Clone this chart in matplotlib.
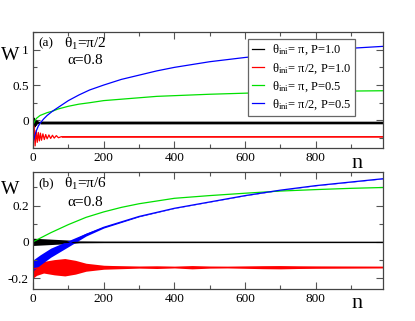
import numpy as np
import matplotlib
matplotlib.use("Agg")
import matplotlib.pyplot as plt
from matplotlib.ticker import MultipleLocator, FixedLocator

matplotlib.rc('font', family='serif', serif=['Liberation Serif', 'DejaVu Serif'])
matplotlib.rcParams['mathtext.fontset'] = 'custom'
matplotlib.rcParams['mathtext.rm'] = 'Liberation Serif'
matplotlib.rcParams['mathtext.it'] = 'Liberation Serif:italic'

# ---- panel (a) data, theta_1 = pi/2 ----
n_smooth_a = [0, 3, 6, 10, 15, 20, 30, 40, 55, 70, 85, 100, 130, 160, 200, 250, 300,
              350, 400, 450, 500, 600, 700, 800, 900, 1000]
blue_a = [-0.32, -0.26, -0.20, -0.14, -0.08, -0.04, 0.02, 0.07, 0.13, 0.18, 0.23, 0.28,
          0.36, 0.43, 0.50, 0.58, 0.64, 0.70, 0.75, 0.79, 0.83, 0.89, 0.94, 0.98, 1.02, 1.05]
green_a = [-0.06, -0.03, 0.0, 0.03, 0.05, 0.07, 0.09, 0.11, 0.13, 0.16, 0.18, 0.20, 0.23,
           0.25, 0.28, 0.30, 0.32, 0.34, 0.35, 0.36, 0.37, 0.385, 0.40, 0.41, 0.415, 0.42]

n_black_a = [0, 2, 4, 6, 8, 10, 12, 14, 16, 18, 20, 1000]
black_a = [0.0, -0.14, 0.03, -0.09, 0.0, -0.07, -0.01, -0.05, -0.02, -0.045, -0.03, -0.03]
n_black_a_band = [20, 1000]
black_a_amp = [0.02, 0.018]

n_red_a = [0, 3, 6, 9, 12, 15, 18, 21, 24, 28, 32, 36, 40, 45, 50, 55, 60, 66, 72, 80, 1000]
red_a = [-0.39, -0.08, -0.36, -0.14, -0.31, -0.17, -0.29, -0.18, -0.28, -0.19, -0.27,
         -0.20, -0.26, -0.205, -0.255, -0.21, -0.25, -0.215, -0.245, -0.23, -0.23]
n_red_a_band = [80, 1000]
red_a_amp = [0.008, 0.006]

# ---- panel (b) data, theta_1 = pi/6 ----
n_green_b = [0, 20, 50, 100, 150, 200, 250, 300, 400, 500, 600, 700, 800, 900, 1000]
green_b = [0.0, 0.02, 0.05, 0.095, 0.135, 0.165, 0.19, 0.21, 0.24, 0.255, 0.268, 0.28,
           0.288, 0.295, 0.30]

n_blue_b = [0, 20, 50, 80, 110, 150, 200, 250, 300, 400, 500, 600, 700, 800, 900, 1000]
blue_b = [-0.13, -0.10, -0.06, -0.03, 0.0, 0.04, 0.08, 0.11, 0.14, 0.185, 0.22, 0.255,
          0.285, 0.31, 0.33, 0.35]
blue_b_amp = [0.03, 0.028, 0.025, 0.02, 0.015, 0.008, 0.004, 0.003, 0.002, 0.001, 0.001,
              0.001, 0.001, 0.001, 0.001, 0.001]

n_black_b = [0, 50, 100, 130, 200, 1000]
black_b = [0.0, 0.0, 0.0, 0.0, 0.0, 0.0]
black_b_amp = [0.02, 0.015, 0.01, 0.005, 0.004, 0.003]

n_red_b = [0, 10, 30, 60, 90, 120, 150, 200, 250, 300, 350, 400, 450, 500, 550, 600, 650,
           700, 750, 800, 900, 1000]
red_b = [-0.15, -0.145, -0.14, -0.14, -0.14, -0.14, -0.14, -0.14, -0.14, -0.14, -0.14,
         -0.14, -0.14, -0.14, -0.14, -0.14, -0.14, -0.14, -0.14, -0.14, -0.14, -0.14]
red_b_amp = [0.05, 0.04, 0.032, 0.042, 0.048, 0.038, 0.022, 0.011, 0.008, 0.005, 0.007, 0.004,
             0.009, 0.005, 0.004, 0.006, 0.008, 0.009, 0.007, 0.006, 0.005, 0.004]

labels = ['θ$_{\\rm ini}$= π, P=1.0', 'θ$_{\\rm ini}$= π/2, P=1.0',
          'θ$_{\\rm ini}$= π, P=0.5', 'θ$_{\\rm ini}$= π/2, P=0.5']
colors = ['black', 'red', '#00e000', 'blue']

lw = 0.9
fig = plt.figure(figsize=(4.15, 3.21), dpi=100)
ax_a = fig.add_axes([33 / 415, 1 - 148 / 321, 350 / 415, 116 / 321])
ax_b = fig.add_axes([33 / 415, 1 - 289 / 321, 350 / 415, 117 / 321])


def band(ax, n, c, amp, col):
    c = np.array(c)
    amp = np.array(amp)
    ax.fill_between(n, c - amp, c + amp, color=col, lw=0)


# panel (a)
ax_a.plot(n_black_a, black_a, color=colors[0], lw=lw, label=labels[0])
band(ax_a, n_black_a_band, [-0.03, -0.03], black_a_amp, colors[0])
ax_a.plot(n_red_a, red_a, color=colors[1], lw=lw, label=labels[1])
band(ax_a, n_red_a_band, [-0.23, -0.23], red_a_amp, colors[1])
ax_a.plot(n_smooth_a, green_a, color=colors[2], lw=lw, label=labels[2])
ax_a.plot(n_smooth_a, blue_a, color=colors[3], lw=lw, label=labels[3])

# panel (b)
ax_b.plot(n_black_b, black_b, color=colors[0], lw=lw)
band(ax_b, n_black_b, black_b, black_b_amp, colors[0])
ax_b.plot(n_red_b, red_b, color=colors[1], lw=lw)
band(ax_b, n_red_b, red_b, red_b_amp, colors[1])
ax_b.plot(n_green_b, green_b, color=colors[2], lw=lw)
ax_b.plot(n_blue_b, blue_b, color=colors[3], lw=lw)
band(ax_b, n_blue_b, blue_b, blue_b_amp, colors[3])

ax_a.set_ylim(-0.39, 1.25)
ax_b.set_ylim(-0.26, 0.385)
ax_a.yaxis.set_major_locator(FixedLocator([0, 0.5, 1]))
ax_a.yaxis.set_minor_locator(MultipleLocator(0.25))
ax_a.set_yticklabels(['0', '0.5', '1'])
ax_b.yaxis.set_major_locator(FixedLocator([-0.2, 0, 0.2]))
ax_b.yaxis.set_minor_locator(MultipleLocator(0.1))
ax_b.set_yticklabels(['-0.2', '0', '0.2'])

for ax in (ax_a, ax_b):
    ax.set_xlim(0, 990)
    ax.xaxis.set_major_locator(FixedLocator([0, 200, 400, 600, 800]))
    ax.xaxis.set_minor_locator(MultipleLocator(100))
    ax.tick_params(which='both', direction='in', top=True, right=True, colors='#555555',
                   labelcolor='black', labelsize=9.5, pad=3)
    ax.tick_params(which='major', length=5, width=0.8)
    ax.tick_params(which='minor', length=3, width=0.8)
    for s in ax.spines.values():
        s.set_color('#444444')
        s.set_linewidth(0.9)

fig.text(10 / 415, 1 - 56 / 321, 'W', fontsize=14, ha='center', va='center')
fig.text(10 / 415, 1 - 190 / 321, 'W', fontsize=14, ha='center', va='center')
fig.text(357 / 415, 1 - 164 / 321, 'n', fontsize=16, ha='center', va='center')
fig.text(357 / 415, 1 - 304 / 321, 'n', fontsize=16, ha='center', va='center')

fig.text(38 / 415, 1 - 43 / 321, '(a)', fontsize=9.5, ha='left', va='center')
fig.text(64 / 415, 1 - 44 / 321, 'θ$_1$=π/2', fontsize=11, ha='left', va='center')
fig.text(67 / 415, 1 - 60 / 321, 'α=0.8', fontsize=11, ha='left', va='center')
fig.text(38 / 415, 1 - 183 / 321, '(b)', fontsize=9.5, ha='left', va='center')
fig.text(64 / 415, 1 - 184 / 321, 'θ$_1$=π/6', fontsize=11, ha='left', va='center')
fig.text(67 / 415, 1 - 202 / 321, 'α=0.8', fontsize=11, ha='left', va='center')

leg = ax_a.legend(loc='upper left', bbox_to_anchor=(215 / 350, 1 - 7 / 116), fontsize=9,
                  handlelength=1.0, handletextpad=0.6, borderpad=0.3, labelspacing=0.3,
                  fancybox=False, framealpha=1, edgecolor='#666666', borderaxespad=0)
leg.get_frame().set_linewidth(0.9)

fig.savefig('out.png', dpi=100)
